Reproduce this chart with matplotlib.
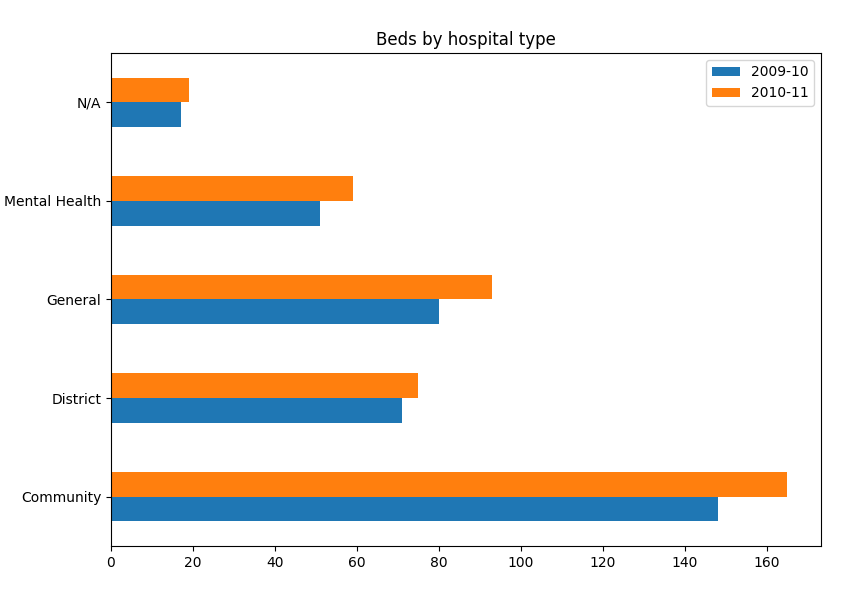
import matplotlib
matplotlib.use("Agg")
import matplotlib.pyplot as plt
import numpy as np

categories = ["Community", "District", "General", "Mental Health", "N/A"]
series_names = ["2009-10", "2010-11"]
beds_2009 = [148, 71, 80, 51, 17]
beds_2010 = [165, 75, 93, 59, 19]

fig = plt.figure(figsize=(8.57, 5.92), dpi=100)
ax = fig.add_axes([0.1295, 0.0777, 0.8285, 0.8328])

y = np.arange(len(categories))
h = 0.25
ax.barh(y - h / 2, beds_2009, height=h, color="#1f77b4", label=series_names[0])
ax.barh(y + h / 2, beds_2010, height=h, color="#ff7f0e", label=series_names[1])

ax.set_yticks(y)
ax.set_yticklabels(categories)
ax.set_ylim(-0.5, len(categories) - 0.5)
ax.set_xlim(0, max(beds_2010) * 1.05)
ax.set_title("Beds by hospital type")
ax.legend(loc="upper right")

fig.savefig("out.png", dpi=100)
